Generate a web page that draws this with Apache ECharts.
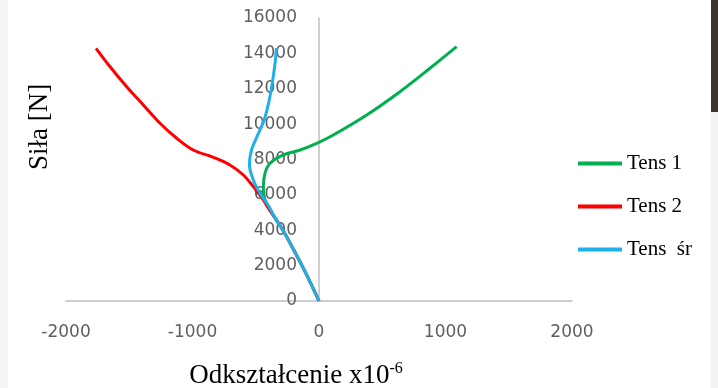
<!DOCTYPE html>
<html>
<head>
<meta charset="utf-8">
<script src="https://cdn.jsdelivr.net/npm/echarts@6/dist/echarts.min.js"></script>
<style>
  html, body { margin: 0; padding: 0; background: #ffffff; }
  #chart { width: 718px; height: 388px; }
</style>
</head>
<body>
<div id="chart"></div>
<script>
// Strain (x10^-6) vs force [N] for each gauge: pairs of [strain, force]
const tens1 = [[0,0],[-65,1000],[-134,2000],[-208,3000],[-285,4000],[-348,4700],[-395,5250],[-430,5806],[-440,6463],[-427,7220],[-387,7785],[-282,8255],[-150,8538],[-18,8916],[113,9386],[377,10517],[640,11834],[877,13157],[1088,14378]];
const tens2 = [[0,0],[-65,1000],[-134,2000],[-208,3000],[-285,4000],[-348,4700],[-400,5250],[-440,5711],[-519,6463],[-598,7124],[-704,7689],[-836,8125],[-994,8538],[-1125,9199],[-1257,10047],[-1389,11082],[-1520,12117],[-1652,13247],[-1763,14288]];
const tensAvg = [[0,0],[-65,1000],[-134,2000],[-208,3000],[-285,4000],[-348,4700],[-400,5400],[-466,6089],[-519,6841],[-550,7700],[-535,8500],[-490,9300],[-435,10200],[-395,11300],[-370,12300],[-350,13300],[-336,14300]];

const seriesNames = ['Tens 1', 'Tens 2', 'Tens  śr'];
const seriesColors = ['#00b050', '#ff0000', '#1fb0ec'];
const seriesData = [tens1, tens2, tensAvg];

const xTicks = { min: -2000, max: 2000, step: 1000 };
const yTicks = { min: 0, max: 16000, step: 2000 };

const gridLeft = 66, gridWidth = 506;
// shift the force axis onto strain = 0
const yAxisOffset = -gridWidth * (0 - xTicks.min) / (xTicks.max - xTicks.min);

const chart = echarts.init(document.getElementById('chart'), null, { renderer: 'canvas' });

const axisLabelStyle = {
  color: '#5f5f5f',
  fontFamily: 'DejaVu Sans',
  fontSize: 17,
  formatter: v => String(v)
};

chart.setOption({
  animation: false,
  backgroundColor: '#ffffff',
  grid: { left: gridLeft, width: gridWidth, top: 18, bottom: 87, containLabel: false, outerBoundsMode: 'none' },
  xAxis: {
    type: 'value',
    min: xTicks.min, max: xTicks.max, interval: xTicks.step,
    axisLine: { show: true, onZero: false, lineStyle: { color: '#bfbfbf', width: 1.5 } },
    axisTick: { show: false },
    splitLine: { show: false },
    axisLabel: Object.assign({ margin: 23 }, axisLabelStyle)
  },
  yAxis: {
    type: 'value',
    position: 'left',
    offset: yAxisOffset,
    min: yTicks.min, max: yTicks.max, interval: yTicks.step,
    axisLine: { show: true, onZero: false, lineStyle: { color: '#bfbfbf', width: 1.5 } },
    axisTick: { show: false },
    splitLine: { show: false },
    axisLabel: Object.assign({ margin: 22 }, axisLabelStyle)
  },
  legend: {
    orient: 'vertical',
    left: 578,
    top: 153,
    padding: 0,
    icon: 'rect',
    itemWidth: 44,
    itemHeight: 4,
    itemGap: 22,
    textStyle: { color: '#000000', fontFamily: 'Liberation Serif', fontSize: 21, lineHeight: 21 },
    data: seriesNames
  },
  series: seriesData.map((d, i) => ({
    name: seriesNames[i],
    type: 'line',
    data: d,
    smooth: 0.35,
    showSymbol: false,
    symbol: 'none',
    lineStyle: { color: seriesColors[i], width: 3 },
    itemStyle: { color: seriesColors[i] },
    z: 2 + i
  })),
  graphic: [
    { type: 'rect', left: 0, top: 0, shape: { width: 8, height: 388 }, style: { fill: '#f4f4f4' }, silent: true },
    { type: 'rect', left: 711, top: 112, shape: { width: 7, height: 276 }, style: { fill: '#f3f3f3' }, silent: true },
    { type: 'rect', left: 711, top: 0, shape: { width: 7, height: 112 }, style: { fill: '#3d342d' }, silent: true },
    {
      type: 'text',
      x: 40, y: 127,
      rotation: Math.PI / 2,
      style: {
        text: 'Siła [N]',
        fill: '#000000',
        font: '27px "Liberation Serif"',
        align: 'center',
        verticalAlign: 'middle'
      },
      silent: true
    },
    {
      type: 'text',
      x: 296, y: 376,
      style: {
        text: 'Odkształcenie x10{sup|-6}',
        fill: '#000000',
        font: '27px "Liberation Serif"',
        align: 'center',
        verticalAlign: 'middle',
        rich: {
          sup: { fontSize: 16, fontFamily: 'Liberation Serif', fill: '#000000', verticalAlign: 'bottom', padding: [0, 0, 14, 0] }
        }
      },
      silent: true
    }
  ]
});
</script>
</body>
</html>
